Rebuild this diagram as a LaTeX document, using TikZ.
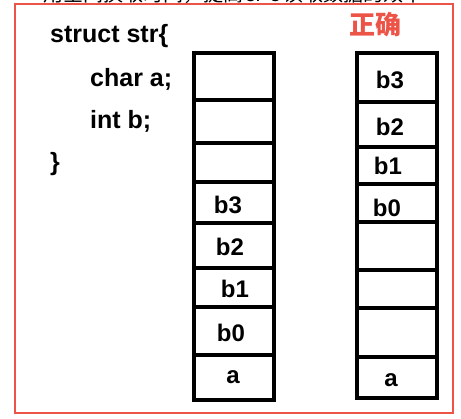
\documentclass[tikz,border=0pt]{standalone}
\usepackage{fontspec}
\setmainfont{Liberation Sans}
\newfontfamily\cjk{Noto Sans CJK SC}
\definecolor{framered}{RGB}{236,84,72}
\begin{document}
\begin{tikzpicture}[x=1pt,y=-1pt,
  cell/.style={draw=black,line width=4.5pt,minimum width=80pt,inner sep=0pt,outer sep=0pt},
  lbl/.style={font=\fontsize{24}{24}\selectfont\bfseries,inner sep=0pt},
  code/.style={font=\fontsize{25}{25}\selectfont\bfseries,inner sep=0pt,anchor=base west}]
\useasboundingbox (0,0) rectangle (461,419);
\clip (0,0) rectangle (461,419);
% clipped caption above the frame
\node[font=\cjk\fontsize{20}{20}\selectfont,inner sep=0pt,anchor=base west] (cap) at (43,2) {用空间换取时间，提高CPU读取数据的效率};
% red frame
\draw[framered,line width=2.5pt] (15,4) rectangle (453,413);
% code text
\node[code] (s1) at (50,43) {struct str\{};
\node[code] (s2) at (90,87) {char a;};
\node[code] (s3) at (90,129) {int b;};
\node[code] (s4) at (50,171) {\}};
% title
\node[font=\cjk\fontsize{26}{26}\selectfont\bfseries,text=framered,inner sep=0pt] (ok) at (375,25) {正确};
% left column
\node[cell,minimum height=47pt] (L1) at (234,76.5) {};
\node[cell,minimum height=43pt] (L2) at (234,121.5) {};
\node[cell,minimum height=39pt] (L3) at (234,162.5) {};
\node[cell,minimum height=41pt] (L4) at (234,202.5) {};
\node[cell,minimum height=45pt] (L5) at (234,245.5) {};
\node[cell,minimum height=39pt] (L6) at (234,287.5) {};
\node[cell,minimum height=48pt] (L7) at (234,331) {};
\node[cell,minimum height=45pt] (L8) at (234,377.5) {};
\node[lbl] (tL4) at (228,205) {b3};
\node[lbl] (tL5) at (230,247) {b2};
\node[lbl] (tL6) at (235,289) {b1};
\node[lbl] (tL7) at (231,333) {b0};
\node[lbl] (tL8) at (233,377) {a};
% right column
\node[cell,minimum height=49pt] (R1) at (397,77.5) {};
\node[cell,minimum height=45pt] (R2) at (397,124.5) {};
\node[cell,minimum height=37pt] (R3) at (397,165.5) {};
\node[cell,minimum height=38pt] (R4) at (397,203) {};
\node[cell,minimum height=48pt] (R5) at (397,246) {};
\node[cell,minimum height=38pt] (R6) at (397,289) {};
\node[cell,minimum height=49pt] (R7) at (397,332.5) {};
\node[cell,minimum height=41pt] (R8) at (397,377.5) {};
\node[lbl] (tR1) at (390,80) {b3};
\node[lbl] (tR2) at (390,127) {b2};
\node[lbl] (tR3) at (388,166) {b1};
\node[lbl] (tR4) at (387,208) {b0};
\node[lbl] (tR8) at (391,380) {a};
\end{tikzpicture}
\end{document}
